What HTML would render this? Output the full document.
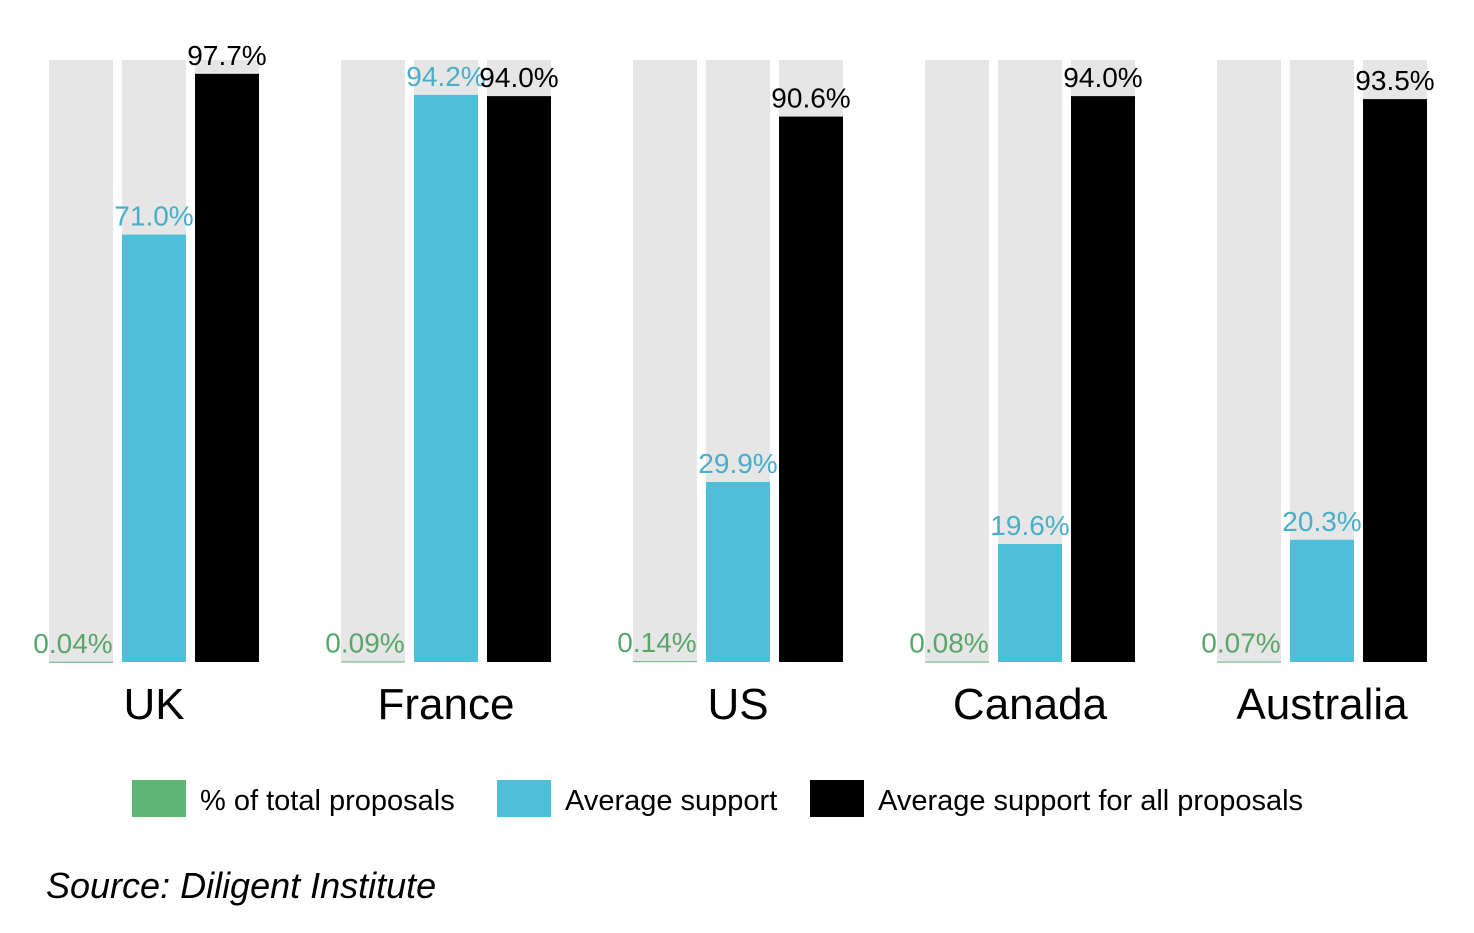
<!DOCTYPE html>
<html><head><meta charset="utf-8"><style>
body{margin:0;background:#fff;width:1474px;height:928px;overflow:hidden;font-family:"Liberation Sans",sans-serif}
svg text{font-family:"Liberation Sans",sans-serif}
</style></head><body>
<svg id="chart" width="1474" height="928" viewBox="0 0 1474 928"></svg>
<script>
const categories=["UK","France","US","Canada","Australia"];
const shareValues=[0.04,0.09,0.14,0.08,0.07];
const supportValues=[71.0,94.2,29.9,19.6,20.3];
const allValues=[97.7,94.0,90.6,94.0,93.5];
const seriesNames=["% of total proposals","Average support","Average support for all proposals"];
const seriesColors=["#5fb574","#4fbfd9","#000000"];
const seriesLabelColors=["#5aa66a","#4aaec8","#000000"];

const NS="http://www.w3.org/2000/svg";
const svg=document.getElementById('chart');
const top0=60,bottom0=662,barW=64,step=73,groupStep=292,x0=49;
function y(v){return bottom0-(v/100)*(bottom0-top0);}
function gx(g,s){return x0+g*groupStep+s*step;}
function mk(tag,attrs){const e=document.createElementNS(NS,tag);for(const k in attrs)e.setAttribute(k,attrs[k]);svg.appendChild(e);return e;}
const series=[shareValues,supportValues,allValues];
categories.forEach((c,g)=>{
  for(let s=0;s<3;s++){
    const bg=mk('rect',{x:gx(g,s),y:top0,width:barW,height:bottom0-top0,fill:'#e6e6e6'});
    
    
  }
  for(let s=0;s<3;s++){
    const v=series[s][g];
    const yy=y(v);
    const r=mk('rect',{x:gx(g,s),y:yy,width:barW,height:Math.max(bottom0-yy,1),fill:seriesColors[s]});
    
    
    const t=mk('text',{x:gx(g,s)+barW/2+(s==0?-8:0),y:yy-9,'text-anchor':'middle','font-size':28,fill:seriesLabelColors[s]});
    t.textContent=(s==0?v.toFixed(2):v.toFixed(1))+'%';
    
    
  }
  const ct=mk('text',{x:gx(g,1)+barW/2,y:719,'text-anchor':'middle','font-size':44,fill:'#000'});
  ct.textContent=c;
  
  
});
const legX=[132,497,810];
seriesNames.forEach((n,i)=>{
  const r=mk('rect',{x:legX[i],y:780,width:54,height:37,fill:seriesColors[i]});
  
  
  const t=mk('text',{x:legX[i]+68,y:810,'font-size':29,fill:'#000'});
  t.textContent=n;
  
  
});
const src=mk('text',{x:46,y:898,'font-size':36,'font-style':'italic',fill:'#000'});
src.textContent='Source: Diligent Institute';


</script>
</body></html>
